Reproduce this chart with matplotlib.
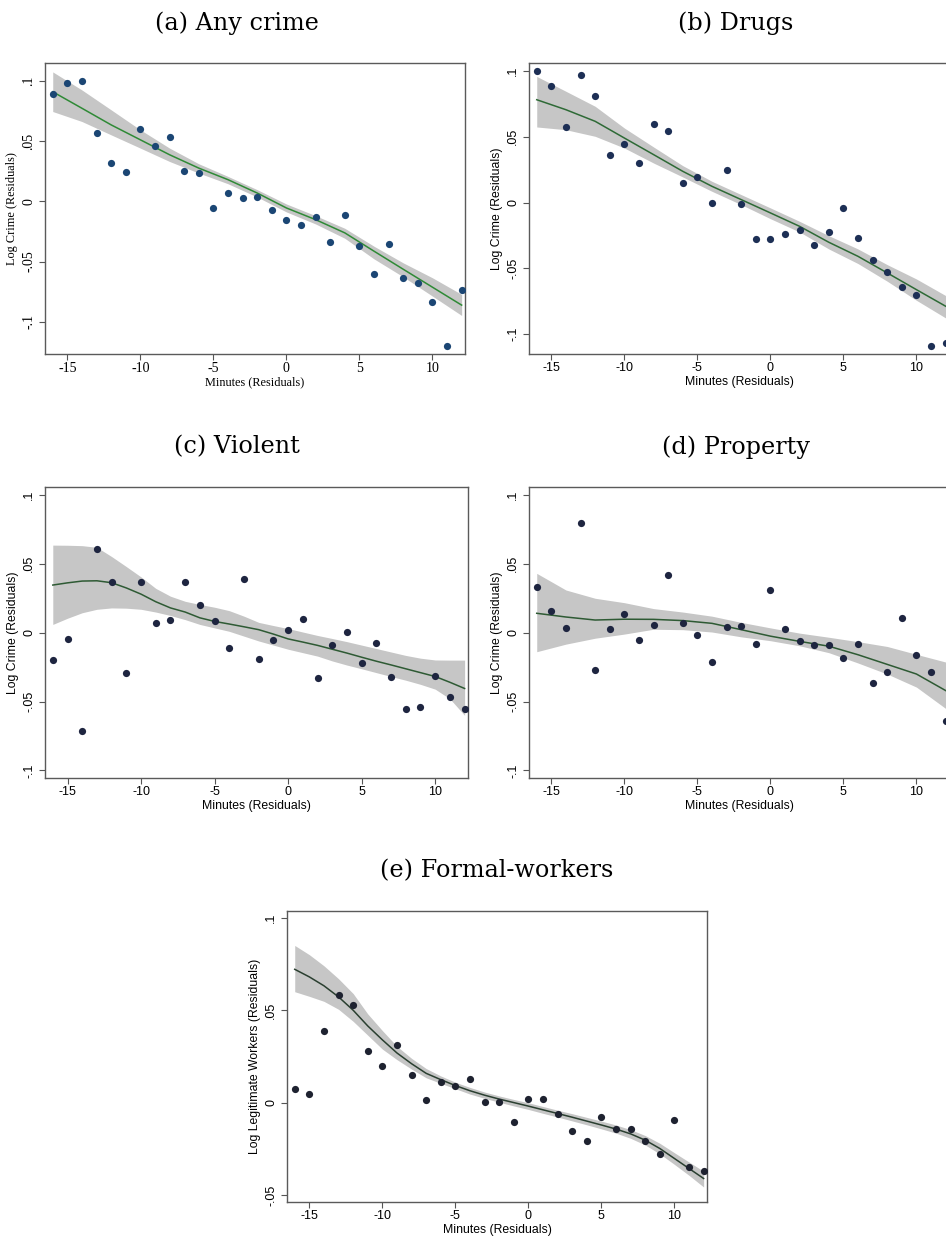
import matplotlib
matplotlib.use("Agg")
import matplotlib.pyplot as plt

W, H = 946, 1239

minutes = list(range(-16, 13))
fit_x_coarse = list(range(-16, 13, 2))
fit_x_fine = list(range(-16, 13))

# (a) Any crime
any_pts = [0.0895, 0.0983, 0.0997, 0.0566, 0.0315, 0.0240, 0.0597, 0.0459, 0.0536,
           0.0251, 0.0232, -0.0052, 0.0072, 0.0025, 0.0033, -0.0072, -0.0152, -0.0193,
           -0.0133, -0.0334, -0.0113, -0.0367, -0.0605, -0.0356, -0.0638, -0.0677,
           -0.0837, -0.1204, -0.0735]
any_fit = [0.0910, 0.0773, 0.0635, 0.0511, 0.0387, 0.0276, 0.0180, 0.0069, -0.0055,
           -0.0152, -0.0262, -0.0414, -0.0564, -0.0713, -0.0862]
any_lo = [0.0746, 0.0663, 0.0552, 0.0442, 0.0331, 0.0235, 0.0146, 0.0036, -0.0088,
          -0.0188, -0.0307, -0.0478, -0.0627, -0.0787, -0.0948]
any_hi = [0.1075, 0.0925, 0.0760, 0.0594, 0.0442, 0.0312, 0.0207, 0.0097, -0.0022,
          -0.0119, -0.0224, -0.0373, -0.0511, -0.0635, -0.0773]

# (b) Drugs
drug_pts = [0.1003, 0.0886, 0.0578, 0.0967, 0.0811, 0.0361, 0.0447, 0.0301, 0.0596,
            0.0548, 0.0149, 0.0192, 0.0000, 0.0247, -0.0008, -0.0275, -0.0273, -0.0240,
            -0.0205, -0.0321, -0.0223, -0.0043, -0.0268, -0.0433, -0.0527, -0.0638,
            -0.0699, -0.1091, -0.1068]
drug_fit = [0.0782, 0.0706, 0.0618, 0.0491, 0.0365, 0.0238, 0.0124, 0.0023, -0.0078,
            -0.0180, -0.0301, -0.0408, -0.0534, -0.0661, -0.0787]
drug_lo = [0.0575, 0.0554, 0.0504, 0.0415, 0.0301, 0.0195, 0.0086, -0.0015, -0.0122,
           -0.0223, -0.0352, -0.0463, -0.0597, -0.0742, -0.0876]
drug_hi = [0.0959, 0.0846, 0.0732, 0.0567, 0.0423, 0.0281, 0.0162, 0.0061, -0.0040,
           -0.0142, -0.0251, -0.0352, -0.0471, -0.0580, -0.0706]

# (c) Violent
viol_pts = [-0.0199, -0.0046, -0.0711, 0.0609, 0.0371, -0.0291, 0.0369, 0.0068, 0.0092,
            0.0367, 0.0201, 0.0083, -0.0114, 0.0393, -0.0194, -0.0053, 0.0017, 0.0102,
            -0.0330, -0.0090, 0.0002, -0.0223, -0.0078, -0.0318, -0.0556, -0.0539,
            -0.0311, -0.0464, -0.0553]
viol_fit = [0.0346, 0.0362, 0.0375, 0.0377, 0.0363, 0.0325, 0.0280, 0.0225, 0.0180,
            0.0150, 0.0108, 0.0082, 0.0063, 0.0043, 0.0022, -0.0010, -0.0045, -0.0068,
            -0.0092, -0.0120, -0.0148, -0.0178, -0.0207, -0.0234, -0.0262, -0.0290,
            -0.0318, -0.0360, -0.0405]
viol_lo = [0.0060, 0.0105, 0.0145, 0.0170, 0.0180, 0.0178, 0.0170, 0.0150, 0.0125,
           0.0095, 0.0060, 0.0035, 0.0010, -0.0025, -0.0060, -0.0090, -0.0120, -0.0145,
           -0.0170, -0.0205, -0.0235, -0.0262, -0.0290, -0.0318, -0.0345, -0.0375,
           -0.0410, -0.0480, -0.0600]
viol_hi = [0.0636, 0.0635, 0.0632, 0.0620, 0.0553, 0.0480, 0.0405, 0.0322, 0.0265,
           0.0228, 0.0205, 0.0185, 0.0160, 0.0120, 0.0075, 0.0052, 0.0030, 0.0005,
           -0.0020, -0.0042, -0.0065, -0.0090, -0.0115, -0.0140, -0.0165, -0.0185,
           -0.0198, -0.0199, -0.0199]

# (d) Property
prop_pts = [0.0335, 0.0155, 0.0032, 0.0799, -0.0272, 0.0024, 0.0133, -0.0053, 0.0056,
            0.0422, 0.0070, -0.0017, -0.0211, 0.0044, 0.0051, -0.0085, 0.0308, 0.0029,
            -0.0061, -0.0092, -0.0092, -0.0187, -0.0080, -0.0367, -0.0282, 0.0104,
            -0.0163, -0.0286, -0.0638]
prop_fit = [0.0141, 0.0114, 0.0092, 0.0098, 0.0097, 0.0088, 0.0068, 0.0022, -0.0025,
            -0.0063, -0.0098, -0.0160, -0.0230, -0.0300, -0.0420]
prop_lo = [-0.0138, -0.0083, -0.0040, -0.0010, 0.0025, 0.0022, 0.0005, -0.0030, -0.0058,
           -0.0095, -0.0145, -0.0220, -0.0300, -0.0395, -0.0550]
prop_hi = [0.0431, 0.0310, 0.0250, 0.0218, 0.0175, 0.0150, 0.0120, 0.0075, 0.0035,
           -0.0003, -0.0033, -0.0065, -0.0100, -0.0157, -0.0213]

# (e) Formal-workers
work_pts = [0.0077, 0.0045, 0.0387, 0.0580, 0.0528, 0.0279, 0.0200, 0.0310, 0.0151,
            0.0016, 0.0112, 0.0090, 0.0126, 0.0004, 0.0004, -0.0106, 0.0022, 0.0022,
            -0.0061, -0.0155, -0.0209, -0.0077, -0.0141, -0.0141, -0.0204, -0.0276,
            -0.0094, -0.0346, -0.0368]
work_fit = [0.0721, 0.0680, 0.0632, 0.0572, 0.0500, 0.0415, 0.0340, 0.0269, 0.0211,
            0.0159, 0.0125, 0.0093, 0.0065, 0.0041, 0.0020, 0.0001, -0.0018, -0.0038,
            -0.0058, -0.0078, -0.0099, -0.0120, -0.0142, -0.0168, -0.0202, -0.0247,
            -0.0301, -0.0355, -0.0409]
work_lo = [0.0600, 0.0575, 0.0548, 0.0505, 0.0440, 0.0365, 0.0290, 0.0233, 0.0182,
           0.0135, 0.0105, 0.0076, 0.0047, 0.0024, 0.0003, -0.0017, -0.0036, -0.0057,
           -0.0077, -0.0098, -0.0119, -0.0141, -0.0164, -0.0192, -0.0228, -0.0276,
           -0.0333, -0.0392, -0.0455]
work_hi = [0.0850, 0.0800, 0.0740, 0.0670, 0.0590, 0.0480, 0.0390, 0.0305, 0.0240,
           0.0185, 0.0145, 0.0111, 0.0083, 0.0058, 0.0037, 0.0018, 0.0000, -0.0020,
           -0.0040, -0.0059, -0.0079, -0.0099, -0.0120, -0.0145, -0.0177, -0.0219,
           -0.0270, -0.0320, -0.0370]

titles = ["(a) Any crime", "(b) Drugs", "(c) Violent", "(d) Property", "(e) Formal-workers"]
ylabels = ["Log Crime (Residuals)"] * 4 + ["Log Legitimate Workers (Residuals)"]
xlabel = "Minutes (Residuals)"
xticks = [-15, -10, -5, 0, 5, 10]
yticks_main = [-0.1, -0.05, 0, 0.05, 0.1]
yticklabels_main = ["-.1", "-.05", "0", ".05", ".1"]
yticks_e = [-0.05, 0, 0.05, 0.1]
yticklabels_e = ["-.05", "0", ".05", ".1"]

fig = plt.figure(figsize=(W / 100, H / 100), dpi=100)
fig.patch.set_facecolor("white")


def make_axes(left, top, right, bottom):
    return fig.add_axes([left / W, 1 - bottom / H, (right - left) / W, (bottom - top) / H])


panels = [
    dict(box=(45, 63, 465, 354), ylim=(-0.1268, 0.1149), fx=fit_x_coarse, pts=any_pts,
         fit=any_fit, lo=any_lo, hi=any_hi, mcolor="#1b4674", lcolor="#2f8a36",
         font="Liberation Serif", tfs=10.0, lfs=8.8, yt=yticks_main, ytl=yticklabels_main,
         tx=237),
    dict(box=(529, 63, 949, 354), ylim=(-0.115, 0.1061), fx=fit_x_coarse, pts=drug_pts,
         fit=drug_fit, lo=drug_lo, hi=drug_hi, mcolor="#1d2f55", lcolor="#2e6a36",
         font="Liberation Sans", tfs=9.0, lfs=8.8, yt=yticks_main, ytl=yticklabels_main,
         tx=736),
    dict(box=(45, 487, 468, 778), ylim=(-0.1055, 0.1058), fx=fit_x_fine, pts=viol_pts,
         fit=viol_fit, lo=viol_lo, hi=viol_hi, mcolor="#1e2540", lcolor="#2e5a34",
         font="Liberation Sans", tfs=9.0, lfs=8.8, yt=yticks_main, ytl=yticklabels_main,
         tx=237),
    dict(box=(529, 487, 949, 778), ylim=(-0.1055, 0.1058), fx=fit_x_coarse, pts=prop_pts,
         fit=prop_fit, lo=prop_lo, hi=prop_hi, mcolor="#1e2540", lcolor="#2e5a34",
         font="Liberation Sans", tfs=9.0, lfs=8.8, yt=yticks_main, ytl=yticklabels_main,
         tx=736),
    dict(box=(287, 911, 707, 1202), ylim=(-0.0536, 0.1036), fx=fit_x_fine, pts=work_pts,
         fit=work_fit, lo=work_lo, hi=work_hi, mcolor="#1e2230", lcolor="#2a3f30",
         font="Liberation Sans", tfs=9.0, lfs=8.8, yt=yticks_e, ytl=yticklabels_e,
         tx=497),
]

for i, p in enumerate(panels):
    ax = make_axes(*p["box"])
    ax.fill_between(p["fx"], p["lo"], p["hi"], color="#c6c6c6", lw=0, zorder=1)
    ax.plot(p["fx"], p["fit"], color=p["lcolor"], lw=1.1, zorder=2)
    ax.plot(minutes, p["pts"], "o", ms=5.2, color=p["mcolor"], mec="none", zorder=3)
    ax.set_xlim(-16.53, 12.23)
    ax.set_ylim(*p["ylim"])
    ax.set_xticks(xticks)
    ax.set_xticklabels([str(t) for t in xticks], fontfamily=p["font"], fontsize=p["tfs"])
    ax.set_yticks(p["yt"])
    ax.set_yticklabels(p["ytl"], fontfamily=p["font"], fontsize=p["tfs"], rotation=90,
                       va="center")
    ax.tick_params(length=4, width=0.8, color="#555555", pad=2)
    ax.tick_params(axis="y", pad=3)
    for s in ax.spines.values():
        s.set_color("#5a5a5a")
        s.set_linewidth(1.0)
    ax.set_xlabel(xlabel, fontfamily=p["font"], fontsize=p["lfs"], labelpad=1)
    ax.set_ylabel(ylabels[i], fontfamily=p["font"], fontsize=p["lfs"], labelpad=3)
    top = p["box"][1]
    fig.text(p["tx"] / W, 1 - (top - 40) / H, titles[i], ha="center", va="center",
             fontfamily="DejaVu Serif", fontsize=17.2)

fig.savefig("out.png", dpi=100, facecolor="white")
